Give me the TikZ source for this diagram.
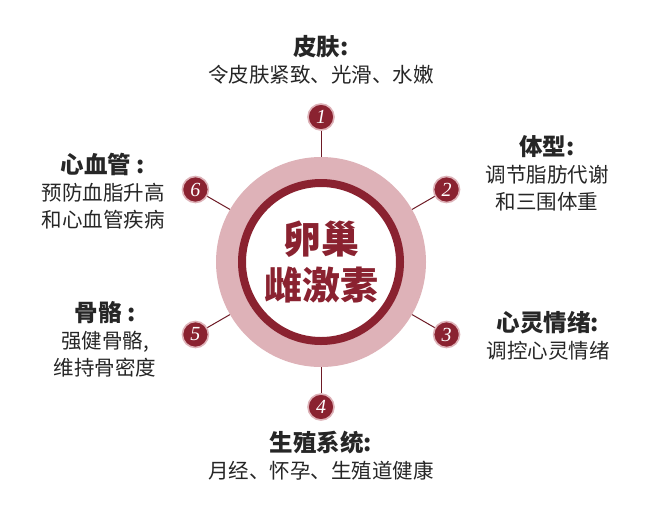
\documentclass[tikz,border=0pt]{standalone}
\usepackage{fontspec}
\setmainfont{Noto Sans CJK SC}
\newfontfamily\numfont{Liberation Serif}
\usetikzlibrary{positioning}
\definecolor{ovred}{RGB}{138,34,48}
\definecolor{ovpink}{RGB}{222,178,184}
\definecolor{ovtext}{RGB}{38,38,38}
\newcommand{\hd}[1]{{\bfseries\fontsize{23.5}{27}\selectfont #1}}

\begin{document}
\begin{tikzpicture}[
    x=1pt, y=-1pt,
    disk/.style={circle, inner sep=0pt},
    num/.style={circle, fill=ovred, draw=ovpink, line width=1.6pt, inner sep=0pt, minimum size=26pt, text=white, font=\numfont\itshape\fontsize{20}{20}\selectfont},
    info/.style={align=center, text=ovtext, font=\fontsize{20.5}{27}\selectfont},
    link/.style={draw=ovred!80!black, line width=1pt}
  ]
    \useasboundingbox (0,0) rectangle (650,515);
    \fill[white] (0,0) rectangle (650,515);
    % central hormone disk
    \node[disk, fill=ovpink, minimum size=210pt] (outer) at (321,262) {};
    \node[disk, fill=white, draw=ovred, line width=8pt, minimum size=158pt, align=center, text=ovred, font=\bfseries\fontsize{38}{46}\selectfont] (core) at (321,262) {卵巢\\雌激素};
    % numbered points
    \foreach \i/\ang in {1/90, 2/30, 3/-30, 4/-90, 5/-150, 6/150} {
      \path (321,262) ++(-\ang:145) node[num] (n\i) {\i};
      \draw[link] (n\i) -- (outer);
    }
    % effects
    \node[info] (skin) at (321,60) {\hd{皮肤:}\\令皮肤紧致、光滑、水嫩};
    \node[info] (shape) at (547,173) {\hd{体型:}\\调节脂肪代谢\\和三围体重};
    \node[info] (mood) at (548,336) {\hd{心灵情绪:}\\调控心灵情绪};
    \node[info] (repro) at (321,456) {\hd{生殖系统:}\\月经、怀孕、生殖道健康};
    \node[info] (bone) at (105,339) {\hd{骨骼 :}\\强健骨骼,\\维持骨密度};
    \node[info] (heart) at (103,191) {\hd{心血管 :}\\预防血脂升高\\和心血管疾病};
  \end{tikzpicture}
\end{document}
